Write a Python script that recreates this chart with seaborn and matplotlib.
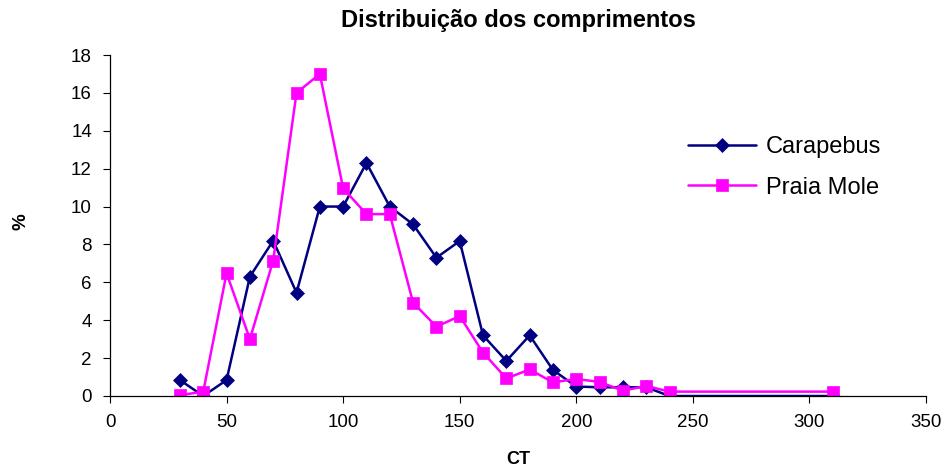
import matplotlib
matplotlib.use("Agg")
import matplotlib.pyplot as plt
import seaborn as sns
import pandas as pd

ct = [30, 40, 50, 60, 70, 80, 90, 100, 110, 120, 130, 140, 150, 160,
      170, 180, 190, 200, 210, 220, 230, 240, 310]
carapebus = [0.84, 0.0, 0.84, 6.3, 8.2, 5.45, 10.0, 10.0, 12.3, 10.0, 9.06,
             7.3, 8.18, 3.2, 1.85, 3.2, 1.37, 0.5, 0.46, 0.46, 0.46, 0.0, 0.0]
praia_mole = [0.04, 0.23, 6.48, 3.0, 7.15, 16.0, 17.0, 10.96, 9.6, 9.6, 4.93,
              3.66, 4.22, 2.29, 0.93, 1.4, 0.72, 0.9, 0.74, 0.28, 0.53, 0.23, 0.23]
series_names = ["Carapebus", "Praia Mole"]
x_ticks = [0, 50, 100, 150, 200, 250, 300, 350]
y_ticks = [0, 2, 4, 6, 8, 10, 12, 14, 16, 18]

sns.set_style("white")
plt.rcParams["font.family"] = ["Liberation Sans", "DejaVu Sans"]
plt.rcParams["text.color"] = "black"
plt.rcParams["axes.labelcolor"] = "black"
plt.rcParams["xtick.color"] = "black"
plt.rcParams["ytick.color"] = "black"

df_c = pd.DataFrame({"CT": ct, "pct": carapebus})
df_p = pd.DataFrame({"CT": ct, "pct": praia_mole})

fig = plt.figure(figsize=(9.5, 4.72), dpi=100)
ax = fig.add_axes([110 / 950, 1 - 396 / 472, (926 - 110) / 950, (396 - 55) / 472])

sns.lineplot(data=df_c, x="CT", y="pct", ax=ax, color="#000080", marker="D",
             markersize=7.6, markeredgewidth=0.5, markeredgecolor="#000080",
             linewidth=1.8, label=series_names[0])
sns.lineplot(data=df_p, x="CT", y="pct", ax=ax, color="#FF00FF", marker="s",
             markersize=9.2, markeredgewidth=0.5, markeredgecolor="#FF00FF",
             linewidth=1.8, label=series_names[1])

ax.set_xlim(0, 350)
ax.set_ylim(0, 18)
ax.set_xticks(x_ticks)
ax.set_yticks(y_ticks)
ax.set_xlabel("")
ax.set_ylabel("")
for s in ["top", "right"]:
    ax.spines[s].set_visible(False)
for s in ["left", "bottom"]:
    ax.spines[s].set_color("black")
    ax.spines[s].set_linewidth(0.9)
ax.tick_params(axis="both", which="major", direction="out", length=5, width=0.8,
               color="black", labelcolor="black", labelsize=13.5, pad=8,
               bottom=True, left=True)

leg = ax.legend(loc="center left", bbox_to_anchor=(688 / 950, 1 - 167.5 / 472),
                bbox_transform=fig.transFigure, frameon=False, fontsize=17,
                handlelength=2.9, handletextpad=0.4, labelspacing=0.78,
                borderpad=0, borderaxespad=0)
for t in leg.get_texts():
    t.set_color("black")

fig.text(518 / 950, 1 - 20 / 472, "Distribuição dos comprimentos", ha="center",
         va="center", fontsize=17, fontweight="bold", color="black")
fig.text(518 / 950, 1 - 460 / 472, "CT", ha="center", va="center",
         fontsize=13, fontweight="bold", color="black")
fig.text(21 / 950, 1 - 222 / 472, "%", ha="center", va="center", rotation=90,
         fontsize=13.5, fontweight="bold", color="black")

fig.savefig("out.png", dpi=100)
